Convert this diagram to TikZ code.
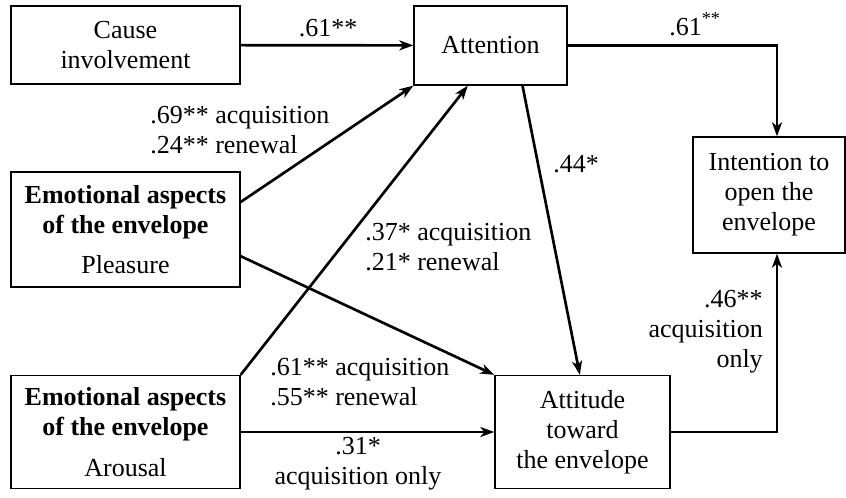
\documentclass[tikz,border=0pt]{standalone}
\usepackage{fontspec}
\setmainfont{Liberation Serif}
\usetikzlibrary{arrows.meta,positioning,calc}
\tikzset{>={Stealth[length=10.5pt,width=7.5pt,inset=3pt]}}

\begin{document}
\begin{tikzpicture}[x=0.75pt, y=-0.75pt,
                every node/.append style={align=center, font=\fontsize{19.5}{22.5}\selectfont},
                box/.style={draw, line width=1pt, inner sep=0pt},
                link/.style={->, line width=2pt},
                lab/.style={inner sep=0pt}]
   \useasboundingbox (0,0) rectangle (846,497);

   % boxes
   \node [box, minimum width=171.75pt, minimum height=58.5pt] (cause) at (125.5,45) {Cause\\involvement};
   \node [box, minimum width=114.75pt, minimum height=59.25pt] (attn) at (490.5,45.5) {Attention};
   \node [box, minimum width=114pt, minimum height=87pt] (intent) at (769,195) {Intention to\\open the\\envelope};
   \node [box, minimum width=171.75pt, minimum height=86.25pt] (pleas) at (125.5,229.5)
         {\textbf{Emotional aspects}\\\textbf{of the envelope}\\[8pt]Pleasure};
   \node [box, minimum width=171.75pt, minimum height=84.75pt] (arous) at (125.5,432)
         {\textbf{Emotional aspects}\\\textbf{of the envelope}\\[8pt]Arousal};
   \node [box, minimum width=131.25pt, minimum height=84.75pt] (attit) at (582.5,432) {Attitude\\toward\\the envelope};

   % paths
   \draw [link] (cause) -- (attn);
   \draw [link] (attn.east) -| ([xshift=6pt]intent.north);
   \draw [link] ([yshift=-23pt]pleas.north east) -- (attn.south west);
   \draw [link] (arous.north east) -- ([xshift=-17pt]attn.south);
   \draw [link] ([xshift=24pt]attn.south) -- ([xshift=-2pt]attit.north);
   \draw [link] ([yshift=-20pt]pleas.east) -- (attit.north west);
   \draw [link] (arous.east) -- (attit.west);
   \draw [link] (attit.east) -| ([xshift=6pt]intent.south);

   % coefficients
   \node [lab, anchor=base] (l-ca) at (328,36) {.61**};
   \node [lab, anchor=base] (l-ai) at (695,35) {.61\textsuperscript{**}};
   \node [lab, anchor=west, align=left] (l-pa) at (150,130) {.69** acquisition\\.24** renewal};
   \node [lab, anchor=base west] (l-at) at (553,172) {.44*};
   \node [lab, anchor=west, align=left] (l-aa) at (365,247) {.37* acquisition\\.21* renewal};
   \node [lab, anchor=west, align=left] (l-pt) at (270,382) {.61** acquisition\\.55** renewal};
   \node [lab] (l-rt) at (358,464) {.31*\\acquisition only};
   \node [lab, anchor=east, align=right] (l-ti) at (763,332) {.46**\\acquisition\\only};
\end{tikzpicture}
\end{document}
